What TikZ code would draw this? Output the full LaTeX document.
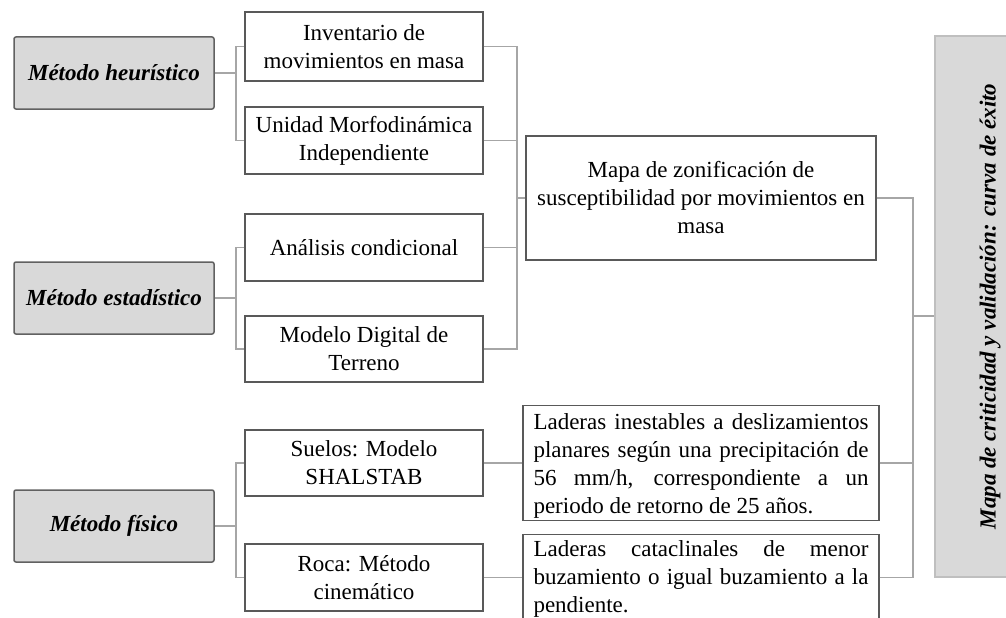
\documentclass[tikz,border=0pt]{standalone}
\usepackage{fontspec}
\setmainfont{Liberation Serif}
\begin{document}
\begin{tikzpicture}[x=1pt,y=-1pt,
  every node/.style={font=\fontsize{23}{28}\selectfont},
  methodbox/.style={draw=black!62, line width=1.5pt, fill=black!15, rounded corners=2pt,
    minimum width=200pt, minimum height=72pt, inner sep=0pt, font=\fontsize{23}{28}\selectfont\bfseries\itshape},
  itembox/.style={draw=black!65, line width=1.4pt, fill=white, minimum width=238pt,
    minimum height=67pt, inner sep=0pt, align=center},
  resbox/.style={draw=black!65, line width=1.4pt, fill=white, minimum width=356pt, inner sep=0pt},
  critbox/.style={draw=black!25, line width=1.2pt, fill=black!15, minimum width=110pt,
    minimum height=541pt, inner sep=0pt},
  conn/.style={draw=black!35, line width=1.2pt}]
\useasboundingbox (0,0) rectangle (1006,618);
\clip (0,0) rectangle (1006,618);
\fill[white] (0,0) rectangle (1006,618);

% method boxes
\node[methodbox] (h) at (114,73) {Método heurístico};
\node[methodbox] (e) at (114,298) {Método estadístico};
\node[methodbox] (f) at (114,526) {Método físico};

% item boxes
\node[itembox, minimum height=69pt] (inv) at (364,46.5) {Inventario de\\movimientos en masa};
\node[itembox] (umi) at (364,140.5) {Unidad Morfodinámica\\Independiente};
\node[itembox] (ac) at (364,247.5) {Análisis condicional};
\node[itembox, minimum height=66pt] (mdt) at (364,349) {Modelo Digital de\\Terreno};
\node[itembox, minimum height=66pt] (sue) at (364,463) {Suelos: Modelo\\SHALSTAB};
\node[itembox] (roc) at (364,577.5) {Roca: Método\\cinemático};

% map box
\node[draw=black!65, line width=1.4pt, fill=white, minimum width=350pt, minimum height=124pt,
  inner sep=0pt, align=center] (map) at (701,198)
  {Mapa de zonificación de\\susceptibilidad por movimientos en\\masa};

% result boxes
\node[resbox, minimum height=115pt] (lad1) at (701,463) {};
\node[inner sep=0pt] (lad1t) at (701,466) {\parbox{335pt}{%
  \makebox[335pt][s]{Laderas inestables a deslizamientos}\\
  \makebox[335pt][s]{planares según una precipitación de}\\
  \makebox[335pt][s]{56 mm/h, correspondiente a un}\\
  periodo de retorno de 25 años.}};
\node[resbox, minimum height=86pt] (lad2) at (701,577.5) {};
\node[inner sep=0pt] (lad2t) at (701,579) {\parbox{335pt}{%
  \makebox[335pt][s]{Laderas cataclinales de menor}\\
  \makebox[335pt][s]{buzamiento o igual buzamiento a la}\\
  pendiente.}};

% right box
\node[critbox] (crit) at (990,306.5) {};
\node[rotate=90, font=\fontsize{23}{28}\selectfont\bfseries\itshape] (critlabel) at (990,306.5)
  {Mapa de criticidad y validación: curva de éxito};

% brackets left
\coordinate (hb) at (236,73);
\coordinate (eb) at (236,298);
\coordinate (fb) at (236,526);
\draw[conn] (h.east) -- (hb);
\draw[conn] (inv.west) -| (hb) |- (umi.west);
\draw[conn] (e.east) -- (eb);
\draw[conn] (ac.west) -| (eb) |- (mdt.west);
\draw[conn] (f.east) -- (fb);
\draw[conn] (sue.west) -| (fb) |- (roc.west);

% to map
\coordinate (mj) at (517,198);
\draw[conn] (inv.east) -| (mj) -- (map.west);
\draw[conn] (umi.east) -| (mj);
\draw[conn] (ac.east) -| (mj);
\draw[conn] (mdt.east) -| (mj);

% physical results
\draw[conn] (sue.east) -- (lad1.west);
\draw[conn] (roc.east) -- (lad2.west);

% to criticity
\coordinate (cj) at (913,316);
\draw[conn] (map.east) -| (cj) -- (cj -| crit.west);
\draw[conn] (lad1.east) -| (cj);
\draw[conn] (lad2.east) -| (cj);
\end{tikzpicture}
\end{document}
